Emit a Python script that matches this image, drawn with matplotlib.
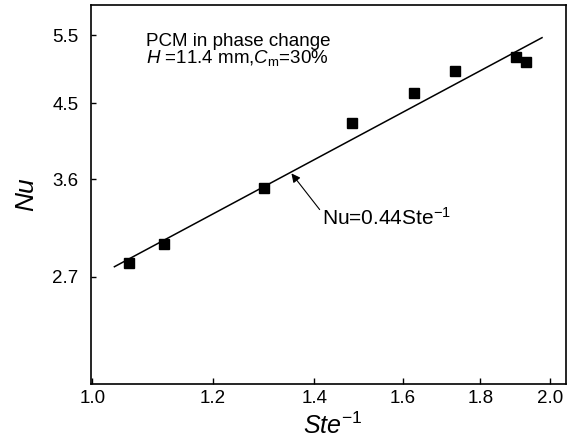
#!/bin/python3

"""
Plot Nu against Ste^-1 for the PCM in phase change, log-log with a power-law fit.
"""

import matplotlib
matplotlib.use("Agg")
import matplotlib.pyplot as plt
from matplotlib.ticker import FixedLocator, FixedFormatter, NullLocator

# measured points
ste_inv = [1.057, 1.114, 1.296, 1.482, 1.627, 1.731, 1.899, 1.928]
nu = [2.81, 2.97, 3.51, 4.25, 4.64, 4.95, 5.16, 5.08]

# fitted line ends
fit_x = [1.034, 1.976]
fit_y = [2.78, 5.46]

x_ticks = [1.0, 1.2, 1.4, 1.6, 1.8, 2.0]
x_labels = ["1.0", "1.2", "1.4", "1.6", "1.8", "2.0"]
y_ticks = [2.7, 3.6, 4.5, 5.5]
y_labels = ["2.7", "3.6", "4.5", "5.5"]

FIT_LABEL = "Nu=0.44Ste$\\mathregular{^{-1}}$"
NOTE = ("PCM in phase change\n"
        "$\\mathit{H}$ =11.4 mm,$\\mathit{C}_{\\mathrm{m}}$=30%")


def main() -> None:
    plt.rcParams["font.family"] = ["Liberation Sans", "DejaVu Sans"]
    plt.rcParams["mathtext.fontset"] = "custom"
    plt.rcParams["mathtext.rm"] = "Liberation Sans"
    plt.rcParams["mathtext.it"] = "Liberation Sans:italic"

    fig = plt.figure(figsize=(5.76, 4.4), dpi=100)
    ax = fig.add_axes([0.158, 0.127, 0.8246, 0.8614])

    ax.plot(fit_x, fit_y, color="black", lw=1.1)
    ax.plot(ste_inv, nu, linestyle="none", marker="s", markersize=7.5,
            color="black")

    ax.set_xscale("log")
    ax.set_yscale("log")
    ax.set_xlim(0.998, 2.049)
    ax.set_ylim(1.967, 6.01)

    ax.xaxis.set_major_locator(FixedLocator(x_ticks))
    ax.xaxis.set_major_formatter(FixedFormatter(x_labels))
    ax.xaxis.set_minor_locator(NullLocator())
    ax.yaxis.set_major_locator(FixedLocator(y_ticks))
    ax.yaxis.set_major_formatter(FixedFormatter(y_labels))
    ax.yaxis.set_minor_locator(NullLocator())

    ax.tick_params(axis="both", direction="in", labelsize=13.5, width=1.0)
    ax.tick_params(axis="x", length=4.5, pad=4)
    ax.tick_params(axis="y", length=3.5, pad=9)
    for s in ax.spines.values():
        s.set_linewidth(1.2)

    ax.set_ylabel("Nu", fontsize=19, fontstyle="italic", labelpad=10)
    ax.set_xlabel("$\\mathit{Ste}^{\\mathregular{-1}}$", fontsize=18)
    ax.xaxis.set_label_coords(0.51, -0.131, transform=ax.transAxes)
    ax.xaxis.label.set_va("baseline")

    ax.annotate("", xy=(1.352, 3.66), xytext=(1.411, 3.29),
                arrowprops=dict(arrowstyle="-|>", color="black", lw=0.8,
                                mutation_scale=13, shrinkA=0, shrinkB=0))
    ax.text(1.415, 3.15, FIT_LABEL, fontsize=15, va="baseline", ha="left")

    ax.text(1.085, 5.53, NOTE, fontsize=13.5, va="top", ha="left",
            linespacing=0.85)

    fig.savefig("out.png", dpi=100)


if __name__ == "__main__":
    main()
